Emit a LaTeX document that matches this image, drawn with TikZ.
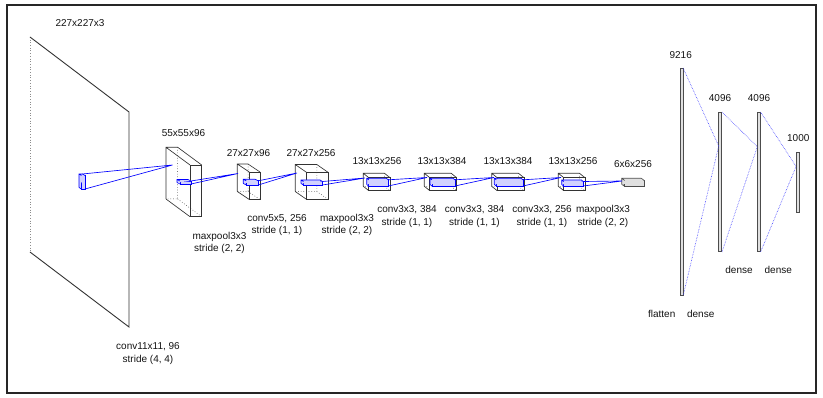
\documentclass[tikz,border=0pt]{standalone}
\usepackage{fontspec}
\setmainfont{Liberation Sans}
\newcommand\nnbox[8]{% style, name, x0, y0, w, h, dx, dy  (front top-left, back offset up-left)
  \path (#3,#4) coordinate (#2-a)
        ({#3+#5},#4) coordinate (#2-b)
        ({#3+#5},{#4+#6}) coordinate (#2-c)
        (#3,{#4+#6}) coordinate (#2-d)
        ({#3-#7},{#4-#8}) coordinate (#2-e)
        ({#3+#5-#7},{#4-#8}) coordinate (#2-f)
        ({#3+#5-#7},{#4+#6-#8}) coordinate (#2-g)
        ({#3-#7},{#4+#6-#8}) coordinate (#2-h);
  \draw[#1, hidden] (#2-f) -- (#2-g) -- (#2-h) (#2-g) -- (#2-c);
  \draw[#1] (#2-a) rectangle (#2-c);
  \draw[#1] (#2-h) -- (#2-e) -- (#2-f) -- (#2-b) (#2-e) -- (#2-a) (#2-h) -- (#2-d);
}
\begin{document}
\begin{tikzpicture}[x=1pt,y=-1pt,
  lbl/.style={font=\fontsize{10}{12.5}\selectfont, text=black!92, inner sep=0pt, align=center},
  layerbox/.style={draw=black!80, line width=0.65pt},
  hidden/.style={dotted, line width=0.5pt},
  kernbox/.style={draw=blue, line width=0.65pt, fill=blue!18},
  flatbox/.style={draw=black!70, line width=0.6pt, fill=black!12},
  cone/.style={draw=blue, line width=0.65pt},
  fc/.style={draw=black!70, fill=black!12, line width=0.6pt, inner sep=0pt, minimum width=3pt},
  fccone/.style={draw=blue!75, densely dotted, line width=0.6pt}]
\useasboundingbox (0,0) rectangle (823,398);
\fill[white] (0,0) rectangle (823,398);
\draw[black!85, line width=1.2pt] (7,5) rectangle (816,393);

% ---- input plane 227x227x3
\path (30,37) coordinate (in-e) (129,112) coordinate (in-b)
      (129,327) coordinate (in-c) (30,252) coordinate (in-h);
\draw[black!45, dotted, line width=0.7pt] (in-e) -- (in-h);
\draw[black!80, line width=0.9pt] (in-e) -- (in-b) -- (in-c) -- (in-h);

% ---- conv layers
\nnbox{layerbox}{L2}{190}{165}{11.7}{51.7}{24}{17.7}
\nnbox{layerbox}{L3}{249.3}{172}{10.7}{27.5}{12}{8}
\nnbox{layerbox}{L4}{306.7}{172.5}{21.6}{27}{11.5}{8}
\nnbox{layerbox}{L5}{368.8}{177.7}{21.2}{13}{5.5}{4.4}
\nnbox{layerbox}{L6}{429.8}{177.7}{26.9}{13}{5.5}{4.4}
\nnbox{layerbox}{L7}{497.2}{177.7}{26.8}{13}{5.5}{4.4}
\nnbox{layerbox}{L8}{563.8}{177.7}{21.2}{13}{5.5}{4.4}
\nnbox{flatbox}{L9}{624.7}{180.5}{19.6}{6}{3}{2.2}

% ---- kernels
\nnbox{kernbox}{K1}{81.5}{175.5}{3.5}{13.5}{2.5}{1.5}
\nnbox{kernbox}{K2}{180}{181}{11}{3}{3}{1.5}
\nnbox{kernbox}{K3}{246.3}{180.8}{12}{4.2}{3}{1.5}
\nnbox{kernbox}{K4}{303.5}{181.5}{19}{3.5}{2.5}{1.5}
\nnbox{kernbox}{K5}{368.7}{179.8}{19.6}{6.2}{2}{1.5}
\nnbox{kernbox}{K6}{432}{179.8}{23}{6.2}{2}{1.5}
\nnbox{kernbox}{K7}{496.3}{179.8}{26.7}{6.2}{2}{1.5}
\nnbox{kernbox}{K8}{563.7}{181.5}{19.6}{4.5}{2}{1.5}

% ---- cone targets
\coordinate (T2) at (172.5,165);
\coordinate (T3) at (238,173.5);
\coordinate (T4) at (297,173);
\coordinate (T5) at (365,178);
\coordinate (T6) at (427,177.5);
\coordinate (T7) at (494,177.5);
\coordinate (T8) at (561,177.5);
\coordinate (T9) at (622,181);

\draw[cone] (K1-f) -- (T2) -- (K1-c);
\draw[cone] (K2-b) -- (T3) -- (K2-c);
\draw[cone] (K3-b) -- (T4) -- (K3-c);
\draw[cone] (K4-b) -- (T5) -- (K4-c);
\draw[cone] (K5-b) -- (T6) -- (K5-c);
\draw[cone] (K6-b) -- (T7) -- (K6-c);
\draw[cone] (K7-b) -- (T8) -- (K7-c);
\draw[cone] (K8-b) -- (T9) -- (K8-c);

% ---- dense layers
\node[fc, minimum height=227.4pt] (D1) at (681.3,182) {};
\node[fc, minimum height=139.4pt] (D2) at (720.2,182) {};
\node[fc, minimum height=139.4pt] (D3) at (758.8,182) {};
\node[fc, minimum height=60pt] (D4) at (797.6,182.3) {};
\coordinate (P2) at (718.7,146);
\coordinate (P3) at (757.3,146.7);
\coordinate (P4) at (796.1,166.5);
\draw[fccone] (D1.north east) -- (P2) -- (D1.south east);
\draw[fccone] (D2.north east) -- (P3) -- (D2.south east);
\draw[fccone] (D3.north east) -- (P4) -- (D3.south east);

% ---- top labels
\node[lbl] (s1) at (80,23) {227x227x3};
\node[lbl] (s2) at (183.5,133) {55x55x96};
\node[lbl] (s3) at (248.5,152.7) {27x27x96};
\node[lbl] (s4) at (311,152.7) {27x27x256};
\node[lbl] (s5) at (377,160.7) {13x13x256};
\node[lbl] (s6) at (442,160.7) {13x13x384};
\node[lbl] (s7) at (508,160.7) {13x13x384};
\node[lbl] (s8) at (573,160.7) {13x13x256};
\node[lbl] (s9) at (633,164) {6x6x256};
\node[lbl] (s10) at (680.7,55) {9216};
\node[lbl] (s11) at (720,98.3) {4096};
\node[lbl] (s12) at (759,98.3) {4096};
\node[lbl] (s13) at (798.3,138.3) {1000};

% ---- operation labels
\node[lbl] (o1) at (148,353.5) {conv11x11, 96\\stride (4, 4)};
\node[lbl] (o2) at (219.5,243) {maxpool3x3\\stride (2, 2)};
\node[lbl] (o3) at (277,225) {conv5x5, 256\\stride (1, 1)};
\node[lbl] (o4) at (347,225) {maxpool3x3\\stride (2, 2)};
\node[lbl] (o5) at (407,216.5) {conv3x3, 384\\stride (1, 1)};
\node[lbl] (o6) at (474.5,216.5) {conv3x3, 384\\stride (1, 1)};
\node[lbl] (o7) at (542,216.5) {conv3x3, 256\\stride (1, 1)};
\node[lbl] (o8) at (603,216.5) {maxpool3x3\\stride (2, 2)};
\node[lbl] (o9) at (739,270) {dense};
\node[lbl] (o10) at (778.3,270) {dense};
\node[lbl] (o11) at (661.7,314) {flatten};
\node[lbl] (o12) at (700.7,314) {dense};
\end{tikzpicture}
\end{document}
